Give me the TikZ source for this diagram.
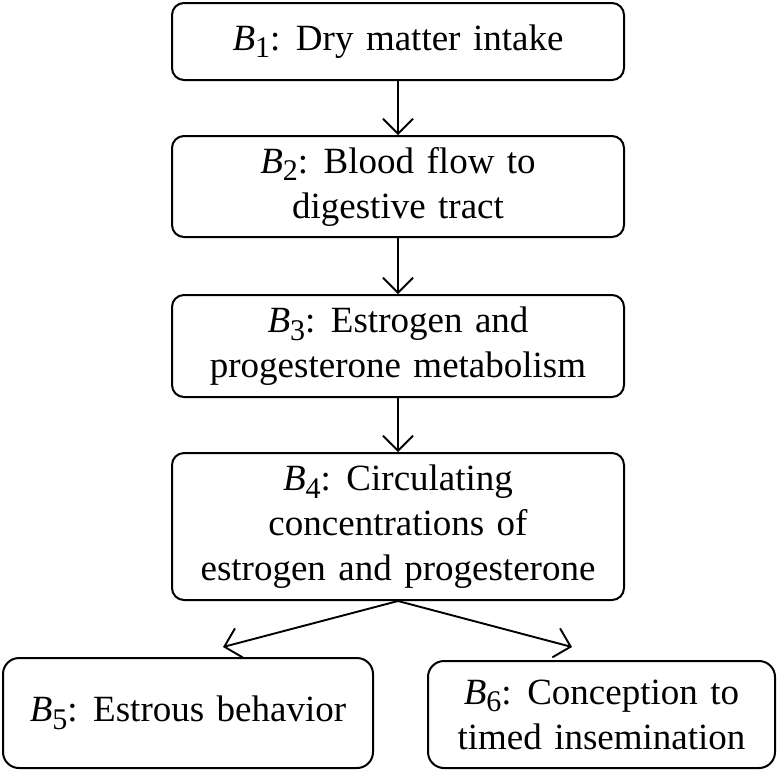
\documentclass[tikz,border=0pt]{standalone}
\usepackage{fontspec}
\setmainfont[WordSpace={1.35}]{Liberation Serif}
\usetikzlibrary{arrows.meta}
\newcommand{\Bsub}[1]{\textit{B}\raisebox{-0.45ex}{\fontsize{15}{15}\selectfont #1}}
\tikzset{
  boxnode/.style 2 args={draw, line width=1pt, rounded corners=6pt, inner sep=0pt,
    align=center, minimum width=#1, minimum height=#2,
    font=\fontsize{18.5}{22.5}\selectfont},
  arr/.style={line width=0.95pt, -{Straight Barb[length=7.5pt, width=15pt, line width=0.95pt]}}
}
\begin{document}
\begin{tikzpicture}[x=0.5pt, y=-0.5pt]
\useasboundingbox (0,0) rectangle (780,773);
\node[boxnode={226pt}{38.5pt}] (b1) at (398,41.5) {\Bsub{1}: Dry matter intake};
\node[boxnode={226pt}{50.5pt}] (b2) at (398,186.5) {\Bsub{2}: Blood flow to\\digestive tract};
\node[boxnode={226pt}{51pt}] (b3) at (398,346) {\Bsub{3}: Estrogen and\\progesterone metabolism};
\node[boxnode={226pt}{73.5pt}] (b4) at (398,526.5) {\Bsub{4}: Circulating\\concentrations of\\estrogen and progesterone};
\node[boxnode={185pt}{55pt}, rounded corners=8pt] (b5) at (188,713) {\Bsub{5}: Estrous behavior};
\node[boxnode={173.5pt}{53.5pt}, rounded corners=8pt] (b6) at (601.5,714.5) {\Bsub{6}: Conception to\\timed insemination};
\coordinate (e5) at (223,647);
\coordinate (e6) at (572,647);
\draw[arr] (b1.south) -- (b2.north);
\draw[arr] (b2.south) -- (b3.north);
\draw[arr] (b3.south) -- (b4.north);
\draw[arr] (b4.south) -- (e5);
\draw[arr] (b4.south) -- (e6);
\end{tikzpicture}
\end{document}
